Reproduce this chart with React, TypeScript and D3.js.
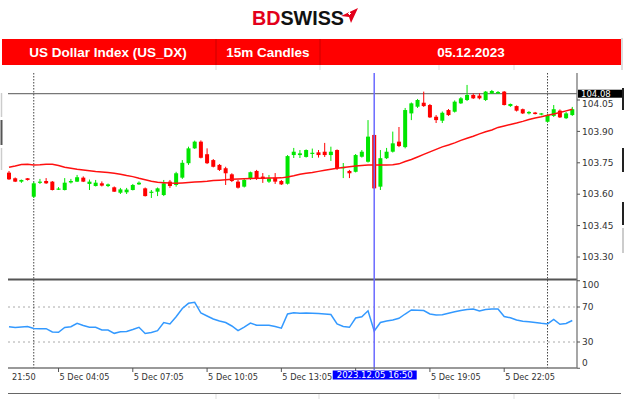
import React from 'react';
import * as d3 from 'd3';

// ---- Data ----
const openP = [103.703,103.676,103.660,103.676,103.588,103.655,103.663,103.660,103.622,103.620,
103.656,103.660,103.679,103.649,103.639,103.652,103.639,103.633,103.607,103.609,
103.620,103.647,103.628,103.607,103.612,103.596,103.660,103.644,103.679,103.748,
103.819,103.851,103.791,103.763,103.740,103.724,103.695,103.660,103.636,103.673,
103.711,103.684,103.660,103.679,103.663,103.650,103.787,103.787,103.778,103.794,
103.800,103.803,103.787,103.811,103.724,103.711,103.707,103.779,103.755,103.883,
103.636,103.772,103.803,103.851,103.825,103.986,104.018,104.037,104.026,103.970,
103.951,104.002,103.994,104.034,104.050,104.074,104.071,104.050,104.081,104.081,
104.090,104.021,104.021,104.006,103.986,103.990,103.981,103.946,103.974,103.999,
103.963,103.978];
const closeP = [103.671,103.660,103.668,103.668,103.652,103.660,103.652,103.620,103.627,103.655,
103.663,103.681,103.660,103.660,103.655,103.641,103.647,103.612,103.623,103.622,
103.644,103.655,103.591,103.612,103.628,103.652,103.639,103.700,103.750,103.819,
103.851,103.774,103.748,103.731,103.716,103.700,103.663,103.631,103.668,103.705,
103.673,103.673,103.676,103.660,103.647,103.782,103.803,103.795,103.811,103.798,
103.787,103.787,103.803,103.724,103.731,103.700,103.787,103.803,103.875,103.628,
103.772,103.803,103.843,103.830,104.002,104.034,104.050,104.021,103.967,103.954,
103.989,103.978,104.042,104.058,104.074,104.058,104.058,104.090,104.093,104.088,
104.026,104.031,103.999,103.986,103.993,103.983,103.986,103.978,104.006,103.967,
103.986,104.006];
const highP = [103.711,103.680,103.670,103.677,103.658,103.673,103.677,103.663,103.634,103.677,
103.673,103.692,103.685,103.670,103.668,103.661,103.651,103.637,103.630,103.630,
103.649,103.661,103.632,103.620,103.632,103.668,103.668,103.707,103.763,103.827,
103.856,103.857,103.819,103.768,103.744,103.731,103.700,103.668,103.673,103.708,
103.716,103.701,103.692,103.701,103.668,103.787,103.821,103.811,103.814,103.818,
103.811,103.845,103.827,103.814,103.749,103.716,103.792,103.811,103.954,103.885,
103.811,103.821,103.899,103.921,104.012,104.038,104.055,104.090,104.031,103.978,
103.995,104.007,104.048,104.064,104.122,104.081,104.082,104.093,104.098,104.093,
104.093,104.033,104.024,104.009,103.997,103.993,103.988,103.983,104.026,104.005,
103.993,104.017];
const lowP = [103.668,103.658,103.654,103.665,103.582,103.649,103.649,103.618,103.620,103.618,
103.651,103.658,103.658,103.620,103.637,103.637,103.634,103.611,103.601,103.601,
103.618,103.644,103.589,103.582,103.591,103.591,103.630,103.636,103.673,103.740,
103.816,103.771,103.744,103.728,103.711,103.644,103.658,103.627,103.632,103.668,
103.668,103.654,103.654,103.649,103.644,103.646,103.773,103.773,103.775,103.773,
103.775,103.778,103.759,103.716,103.677,103.677,103.704,103.775,103.751,103.625,
103.620,103.768,103.799,103.825,103.819,103.954,104.012,104.017,103.964,103.940,
103.940,103.974,103.990,104.031,104.045,104.055,104.053,104.045,104.079,104.079,
104.024,104.017,103.995,103.983,103.981,103.981,103.977,103.943,103.969,103.964,
103.959,103.974];
const maValues = [103.729,103.735,103.742,103.743,103.740,103.741,103.743,103.743,103.737,103.729,
103.724,103.719,103.716,103.712,103.708,103.706,103.704,103.700,103.695,103.689,
103.684,103.676,103.669,103.662,103.657,103.655,103.653,103.652,103.654,103.656,
103.658,103.660,103.662,103.665,103.667,103.669,103.671,103.673,103.674,103.675,
103.676,103.676,103.677,103.677,103.678,103.682,103.688,103.695,103.700,103.704,
103.709,103.714,103.719,103.724,103.727,103.731,103.735,103.737,103.739,103.740,
103.740,103.740,103.741,103.745,103.756,103.766,103.778,103.790,103.802,103.814,
103.826,103.835,103.845,103.857,103.867,103.877,103.888,103.898,103.907,103.919,
103.926,103.933,103.940,103.948,103.957,103.964,103.970,103.977,103.983,103.990,
103.998,104.006];
const rsiValues = [47.5,46.6,47.1,47.7,45.4,45.2,45.2,41.4,41.1,46.6,
47.5,51.4,48.9,46.8,46.8,43.7,43.7,39.9,41.7,42.1,
44.3,46.8,39.7,40.9,42.9,52.3,50.6,58.9,68.3,74.2,
75.4,63.1,59.7,56.3,54.0,52.3,48.3,43.1,47.1,51.7,
49.1,49.1,49.1,47.7,45.8,62.0,63.5,62.9,63.1,62.8,
62.5,62.0,61.4,50.6,47.7,46.8,57.4,58.9,65.7,42.6,
52.3,54.0,55.1,57.1,62.0,66.6,66.3,65.9,62.0,60.9,
61.1,62.8,64.5,66.0,67.1,67.7,65.4,67.1,67.7,67.7,
59.1,57.7,55.1,53.7,53.2,52.3,51.3,50.6,55.7,50.3,
51.1,54.6];

const priceTicks = [104.05, 103.90, 103.75, 103.60, 103.45, 103.30];
const rsiTicks = [100, 70, 30, 0];
const rsiLevels = [70, 30];
const timeTickIdx = [8, 20, 32, 44, 56, 68, 80];
const timeTickLabels = ['5 Dec 04:05', '5 Dec 07:05', '5 Dec 10:05', '5 Dec 13:05', '5 Dec 16:05', '5 Dec 19:05', '5 Dec 22:05'];
const firstTimeLabel = '21:50';
const hLineLevel = 104.08;
const cursorIdx = 59;
const cursorLabel = '2023.12.05 16:50';
const periodSepIdx = [4, 87];
const titleCells = ['US Dollar Index (US_DX)', '15m Candles', '05.12.2023'];

const GREEN = '#00e600';
const RED = '#ff0000';
const AXIS_FONT = 'DejaVu Sans, Verdana, sans-serif';

export default function App() {
  const n = openP.length;
  const x = d3.scaleLinear().domain([0, n - 1]).range([9, 9 + (n - 1) * 6.19]);
  const y = d3.scaleLinear().domain([103.30, 104.05]).range([257, 100]);
  const yr = d3.scaleLinear().domain([0, 100]).range([368.25, 280.75]);
  const plotLeft = 8, plotRight = 577, mainTop = 72, mainBottom = 279, rsiBottom = 368;

  const maLine = d3.line<number>().x((_, i) => x(i)).y(d => y(d))(maValues) || '';
  const rsiLine = d3.line<number>().x((_, i) => x(i)).y(d => yr(d))(rsiValues) || '';

  const bodyW = 4;
  const boxL = x(cursorIdx) - 41.5, boxR = x(cursorIdx) + 42.5;

  return (
    <svg width={624} height={399} style={{ position: 'absolute', left: 0, top: 0, background: '#fff' }}>
      <rect x={0} y={0} width={624} height={399} fill="#fff" />
      {/* Logo */}
      <text x={252} y={25} fontFamily="Liberation Sans, Arial, sans-serif" fontWeight={700} fontSize={19.5} textLength={92} lengthAdjust="spacingAndGlyphs">
        <tspan fill="#e3001b">BD</tspan><tspan fill="#111">SWISS</tspan>
      </text>
      <polygon points="341,16 358,8 351,23 349,17" fill="#e3001b" />
      <path d="M348,13.5 h3 M349.5,12 v3" stroke="#fff" strokeWidth={1} />

      {/* Title bar */}
      <rect x={2} y={39} width={619} height={26} fill="#ff0000" />
      <line x1={216} y1={39} x2={216} y2={65} stroke="#cc0000" strokeWidth={1} />
      <line x1={320} y1={39} x2={320} y2={65} stroke="#cc0000" strokeWidth={1} />
      <line x1={622} y1={38} x2={622} y2={70} stroke="#bbb" strokeWidth={1} />
      {[216, 320, 439, 514].map(v => (
        <line key={v} x1={v} y1={65} x2={v} y2={70} stroke="#ddd" strokeWidth={1} />
      ))}
      {titleCells.map((t, i) => (
        <text key={t} x={[108, 268, 471][i]} y={57} textAnchor="middle" fill="#fff"
          fontFamily="Liberation Sans, Arial, sans-serif" fontWeight={700} fontSize={13.5}>{t}</text>
      ))}

      {/* left edge fragments */}
      <line x1={1.5} y1={93} x2={1.5} y2={117} stroke="#ccc" strokeWidth={1.5} />
      <line x1={1.5} y1={120} x2={1.5} y2={145} stroke="#555" strokeWidth={2} />
      <line x1={1.5} y1={148} x2={1.5} y2={170} stroke="#ccc" strokeWidth={1.5} />

      {/* RSI levels */}
      {rsiLevels.map(v => (
        <line key={v} x1={plotLeft} x2={plotRight} y1={yr(v)} y2={yr(v)} stroke="#aaa" strokeWidth={1} strokeDasharray="2,3" />
      ))}

      {/* period separators */}
      {periodSepIdx.map(i => (
        <line key={i} x1={x(i)} x2={x(i)} y1={mainTop + 1} y2={rsiBottom} stroke="#444" strokeWidth={1} strokeDasharray="1.5,1.5" />
      ))}

      {/* horizontal level line */}
      <line x1={plotLeft} x2={plotRight} y1={y(hLineLevel)} y2={y(hLineLevel)} stroke="#777" strokeWidth={1.3} />

      {/* Candles */}
      {openP.map((o, i) => {
        const c = closeP[i];
        const up = c >= o;
        const col = up ? GREEN : RED;
        const top = y(Math.max(o, c));
        const bot = y(Math.min(o, c));
        return (
          <g key={i}>
            <line x1={x(i)} x2={x(i)} y1={y(highP[i])} y2={y(lowP[i])} stroke={col} strokeWidth={1} />
            <rect x={x(i) - bodyW / 2} y={top} width={bodyW} height={Math.max(1.2, bot - top)} fill={col} />
          </g>
        );
      })}

      {/* MA */}
      <path d={maLine} fill="none" stroke="#ff1010" strokeWidth={1.5} />

      {/* separator between panes */}
      <line x1={plotLeft} x2={plotRight} y1={mainBottom + 0.5} y2={mainBottom + 0.5} stroke="#555" strokeWidth={2} />

      {/* RSI */}
      <path d={rsiLine} fill="none" stroke="#3399ff" strokeWidth={1.5} />

      {/* cursor line */}
      <line x1={x(cursorIdx)} x2={x(cursorIdx)} y1={mainTop + 1} y2={rsiBottom + 2} stroke="#6a6aff" strokeWidth={1.5} />

      {/* right axis */}
      <line x1={plotRight} x2={plotRight} y1={mainTop + 1} y2={rsiBottom} stroke="#777" strokeWidth={1.3} />
      {priceTicks.map(v => (
        <g key={v}>
          <line x1={plotRight} x2={plotRight + 3} y1={y(v)} y2={y(v)} stroke="#555" />
          <text x={plotRight + 5} y={v === 104.05 ? y(v) + 3.5 : y(v)} dy="0.35em" fontFamily={AXIS_FONT} fontSize={9} fill="#333">{v.toFixed(2)}</text>
        </g>
      ))}
      {rsiTicks.map(v => (
        <g key={v}>
          <line x1={plotRight} x2={plotRight + 3} y1={yr(v)} y2={yr(v)} stroke="#555" />
          <text x={plotRight + 5} y={v === 100 ? yr(v) + 4.5 : v === 0 ? yr(v) - 5 : yr(v)} dy="0.35em"
            fontFamily={AXIS_FONT} fontSize={9} fill="#333">{v}</text>
        </g>
      ))}
      {/* price label */}
      <rect x={578} y={y(hLineLevel) - 4} width={46} height={8} fill="#000" />
      <text x={581} y={y(hLineLevel)} dy="0.35em" fontFamily={AXIS_FONT} fontSize={8.5} fill="#fff">{hLineLevel.toFixed(2)}</text>

      {/* right edge fragments */}
      <rect x={622} y={88} width={2} height={22} fill="#222" />
      <rect x={622} y={148} width={2} height={24} fill="#222" />
      <rect x={622} y={202} width={2} height={23} fill="#222" />
      <rect x={622} y={228} width={2} height={25} fill="#ccc" />

      {/* bottom axis */}
      <line x1={plotLeft} x2={plotRight} y1={rsiBottom} y2={rsiBottom} stroke="#777" strokeWidth={1.3} />
      {timeTickIdx.map((idx, k) => {
        const tx = x(idx) + 1;
        const hidden = tx > boxL && tx < boxR; // covered by the cursor label
        return (
          <g key={idx}>
            <line x1={x(idx)} x2={x(idx)} y1={rsiBottom} y2={rsiBottom + 4} stroke="#555" />
            {!hidden && (
              <text x={tx} y={380} fontFamily={AXIS_FONT} fontSize={8.2} fill="#333">{timeTickLabels[k]}</text>
            )}
          </g>
        );
      })}
      <text x={x(0) + 3} y={380} fontFamily={AXIS_FONT} fontSize={8.2} fill="#333">{firstTimeLabel}</text>
      <rect x={boxL} y={370.5} width={boxR - boxL} height={9} fill="#0000ff" />
      <text x={(boxL + boxR) / 2} y={375} dy="0.35em" textAnchor="middle" fontFamily={AXIS_FONT} fontSize={8.5} fill="#fff">{cursorLabel}</text>

      {/* bottom table line */}
      <line x1={plotLeft} x2={621} y1={393.5} y2={393.5} stroke="#666" strokeWidth={1} />
      {[216, 319, 439, 514].map(v => (
        <line key={v} x1={v} y1={394} x2={v} y2={399} stroke="#ddd" strokeWidth={1} />
      ))}
    </svg>
  );
}
